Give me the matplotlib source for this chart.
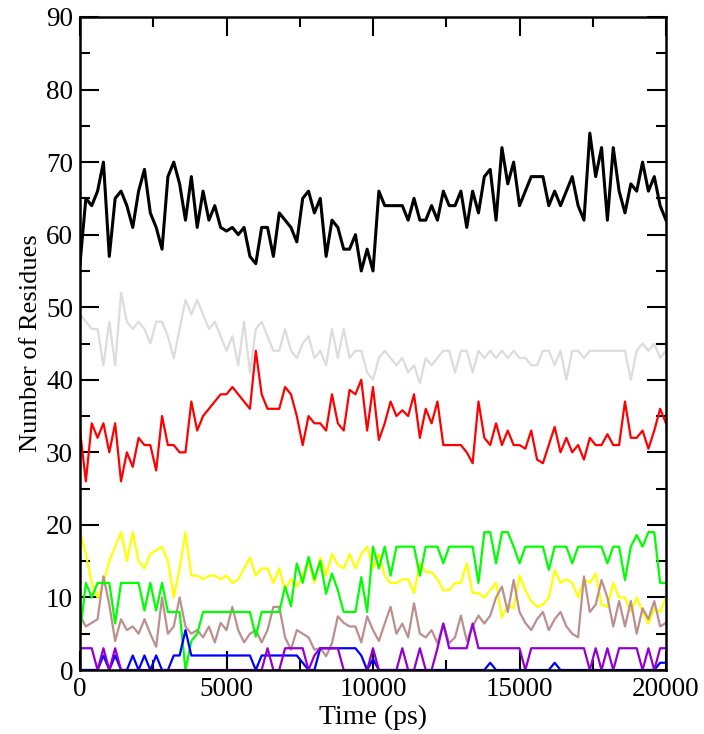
import numpy as np
import matplotlib
matplotlib.use("Agg")
import matplotlib.pyplot as plt
from matplotlib.ticker import MultipleLocator

time_ps = np.arange(0, 20001, 200)

black = [56,65,64,66,70,57,65,66,64,61,
         66,69,63,61,58,68,70,67,62,68,
         61,66,62,64,61,60.5,61,60,61,57,
         56,61,61,57,63,62,61,59,65,66,
         63,65,57,62,61,58,58,60,55,58,
         55,66,64,64,64,64,62,65,62,62,
         64,62,66,64,64,66,61,66,63,68,
         69,62,72,67,70,64,66,68,68,68,
         64,66,64,66,68,64,62,74,68,72,
         62,72,66,63,67,66,70,66,68,64,
         62]
gray = [49,48,47,47,42,48,42,52,48,47,
        48,47,45,48,48,46,43,47,51,49,
        51,49,47,48,46,44,46,42,48,41,
        47,48,46,44,44,47,44,43,45,46,
        43,44,42,47,43,47,43,44,44,41,
        40,43,44,43,42,43,41,42,39.5,43,
        42,43,44,44,41,44,44,41,44,43,
        44,43,44,43,44,43,43,42,42,44,
        44,42,44,40,44,44,43,44,44,44,
        44,44,44,44,40,44,45,44,45,43,
        44]
red = [33,26,34,32,34,30,34,26,30,28,
       32,31,31,27.5,35,31,31,30,30,37,
       33,35,36,37,38,38,39,38,37,36,
       44,38,36,36,36,39,38,35,31,35,
       34,34,33,38,34,33,38.6,38,40,33,
       39,31.7,34,37,35,35.8,35,38,32,36,
       34,37,31,31,31,31,30,28.5,37,32,
       31,34,31,33,31,31,30.5,33,29,28.5,
       31,33.5,30,32,30,31,29,32,31,31,
       32.5,31,31,37,32,32,33,30.5,33,36,
       34]
yellow = [19,16,12,10,12,15,17,19,15,19,
          15,14,16,16.5,17,15,10,14,19,13,
          13,12.5,13,13,12.5,13,12,12.5,14,15.5,
          13,14,14,12,14,11,12.5,11.5,13,15,
          12,15.5,13,16,14.5,14,16,14,16,17,
          14,16,13,12,12,12.5,12.5,10.6,14.7,13.5,
          13.5,12.5,11,11,12,12,14.7,10.6,10.6,10,
          11,12,7.2,9,8.5,13,11,9.5,8.7,9,
          10,13.8,12,12.5,12,10,12.5,12,13.3,9,
          8.7,12,10,10,8,10,8,6.4,8.5,8,
          10]
green = [5,12,10,12,12,12,6.4,12,12,12,
         12,8.2,12,8.2,12,8,8,8,0,4,
         5,8,8,8,8,8,8,8,8,8,
         4.6,8,8,8,8,11.5,8.8,14.7,12,15.6,
         12.5,15,10.5,13.3,11,8,8,8,12.8,8,
         17,14,17,13,17,17,17,17,13,17,
         17,17,14.7,17,17,17,17,17,12,19,
         19,14.7,19,19,17,14.7,17,17,17,17,
         13.8,17,17,17,14.7,17,17,17,17,17,
         14.7,17,17,12.4,17,18.6,17,19,19,12,
         12]
brown = [7.5,6,6.5,7,12.9,9,4,7,5.5,6,
         5,7,5,3.2,10,5,6,10,6,5,
         5.5,4.5,6,3.8,6.5,5.5,8.7,5.5,3.8,5,
         5.5,3.8,5.5,8.7,8.7,4.5,2.8,5.5,5,4.5,
         2.8,3,1.9,3.7,7.4,6.5,6,6,3.8,7.4,
         5.5,4,6.4,8.7,5,6.4,4.5,9.2,5,4.5,
         5.5,3.7,6.4,3.7,4.5,7.5,4,6,7.5,6.4,
         7.5,10,11.5,8,12.4,8,6.5,5.5,7,8,
         5.5,7,8,6,5,4.5,12.9,8,9,12.4,
         10,6,9.5,6,9.5,5,8.5,7,9.5,6,
         6.5]
violet = [3,3,3,0,3,0,3,0,0,0,
          0,0,0,0,0,0,0,0,0,0,
          0,0,0,0,0,0,0,0,0,0,
          0,0,3,0,0,3,3,3,3,0,
          2,3,3,3,3,0,0,0,0,0,
          3,0,0,0,0,3,0,0,3,0,
          0,3,6.4,3,3,3,3,6.4,3,3,
          3,3,3,3,3,3,0,3,3,3,
          3,3,3,3,3,3,3,0,3,0,
          3,0,3,3,3,3,0,3,0,3,
          3]
blue = [0,0,0,0,2,0,2,0,0,2,
        0,2,0,2,0,0,2,2,5.5,2,
        2,2,2,2,2,2,2,2,2,2,
        0,2,2,2,2,2,2,2,1,0,
        0,3,3,3,3,3,3,3,2,0,
        1.5,0,0,0,0,0,0,0,0,0,
        0,0,0,0,0,0,0,0,0,0,
        1,0,0,0,0,0,0,0,0,0,
        0,1,0,0,0,0,0,0,0,0,
        0,0,0,0,0,0,0,0,0,1,
        1]

x_ticks = [0, 5000, 10000, 15000, 20000]
y_ticks = [0, 10, 20, 30, 40, 50, 60, 70, 80, 90]

plt.rcParams['font.family'] = ['Liberation Serif', 'DejaVu Serif']

fig = plt.figure(figsize=(7.04, 7.34), dpi=100)
ax = fig.add_axes([80/704, 1-670/734, (666-80)/704, (670-17)/734])

series = [
    (gray, '#dcdcdc', 1.6),
    (black, '#000000', 2.2),
    (red, '#ff0000', 1.6),
    (yellow, '#ffff00', 1.6),
    (brown, '#bc8f8f', 1.6),
    (green, '#00ff00', 1.6),
    (blue, '#0000ff', 1.6),
    (violet, '#9400d3', 1.6),
]
for vals, col, lw in series:
    ax.plot(time_ps, vals, color=col, lw=lw)

ax.set_xlim(0, 20000)
ax.set_ylim(0, 90)
ax.set_xticks(x_ticks)
ax.set_yticks(y_ticks)
ax.xaxis.set_minor_locator(MultipleLocator(2500))
ax.yaxis.set_minor_locator(MultipleLocator(5))
ax.tick_params(which='both', direction='in', top=True, right=True, width=1.5, labelsize=19.5, colors='black')
ax.tick_params(which='major', length=14, pad=5)
ax.tick_params(which='minor', length=7)
for s in ax.spines.values():
    s.set_linewidth(1.8)

ax.set_xlabel('Time (ps)', fontsize=20, labelpad=2)
ax.set_ylabel('Number of Residues', fontsize=19, labelpad=3)

fig.savefig('out.png', dpi=100)
